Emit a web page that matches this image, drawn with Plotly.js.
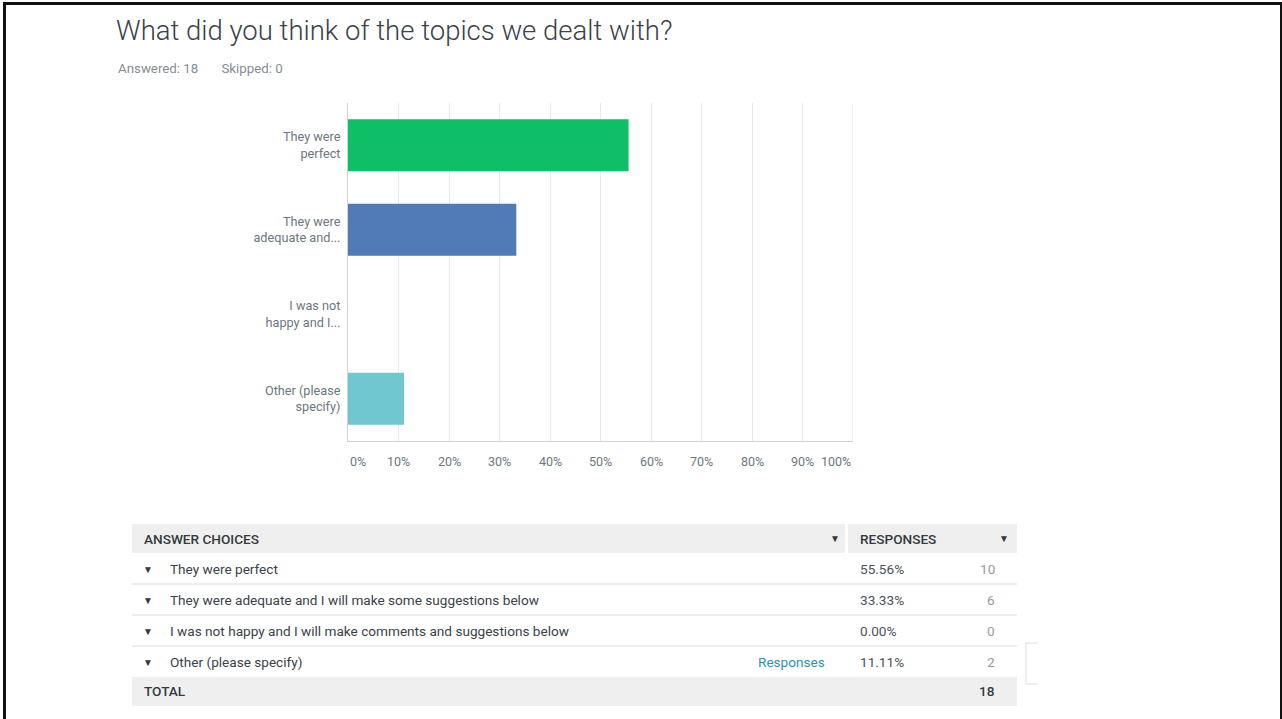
<!DOCTYPE html>
<html>
<head>
<meta charset="utf-8">
<script src="https://cdn.plot.ly/plotly-3.0.1.min.js"></script>
<style>
  html, body { margin: 0; padding: 0; background: #fff; }
  #wrap { position: relative; width: 1282px; height: 719px; overflow: hidden; }
  #chart { width: 1282px; height: 719px; }
  #frame { position: absolute; left: 3px; top: 2px; width: 1274px; height: 730px;
           border-top: 3px solid #111; border-left: 3px solid #111; border-right: 2px solid #111;
           pointer-events: none; }
</style>
</head>
<body>
<div id="wrap"><div id="chart"></div><div id="frame"></div></div>
<script>
// ---- data ----
const shortLabels = ["They were<br>perfect", "They were<br>adequate and...", "I was not<br>happy and I...", "Other (please<br>specify)"];
const fullLabels = ["They were perfect", "They were adequate and I will make some suggestions below",
                    "I was not happy and I will make comments and suggestions below", "Other (please specify)"];
const percents = [55.56, 33.33, 0.00, 11.11];
const counts = [10, 6, 0, 2];
const totalCount = 18;
const barColors = ["#0fbf68", "#507bb6", "#a3a3a3", "#71c7cf"];
const xTickVals = [0, 10, 20, 30, 40, 50, 60, 70, 80, 90, 100];
const xTickText = ["0%", "10%", "20%", "30%", "40%", "50%", "60%", "70%", "80%", "90%", "100%"];
const titleText = "What did you think of the topics we dealt with?";
const subText = "Answered: 18&nbsp;&nbsp;&nbsp;&nbsp;&nbsp;&nbsp;&nbsp;Skipped: 0";

// ---- plot geometry (pixels) ----
const W = 1282, H = 719;
const PL = 348, PR = 853, PT = 103, PB = 441;
const px = x => (x - PL) / (PR - PL);
const py = y => (PB - y) / (PB - PT);

const FONT = "Roboto, 'Open Sans', sans-serif";
const gray = "#6b7780";
const TS = 13.6;

const trace = {
  type: "bar",
  orientation: "h",
  x: percents,
  y: shortLabels,
  marker: { color: barColors },
  width: 0.615,
  hoverinfo: "skip"
};

const annotations = [];
const shapes = [];

// x tick labels via axis scale positions
xTickVals.forEach((v, i) => {
  annotations.push({
    xref: "x", yref: "paper", x: v, y: py(461),
    text: xTickText[i], showarrow: false,
    xanchor: i === 0 ? "left" : (i === xTickVals.length - 1 ? "right" : "center"),
    yanchor: "middle",
    font: { family: FONT, size: 12.5, color: gray }
  });
});

// subtitle
annotations.push({
  xref: "paper", yref: "paper", x: px(116), y: py(69), xanchor: "left", yanchor: "middle",
  text: subText, showarrow: false, font: { family: FONT, size: 13.3, color: "#858d93" }
});

// ---- table ----
const TL = 132, TR = 1017, COLDIV = 846;
const headTop = 524, rowH = 31;
const rowTops = fullLabels.map((_, i) => headTop + 29 + i * rowH);
const totalTop = headTop + 29 + fullLabels.length * rowH;

function rect(x0, y0, x1, y1, fill, line) {
  shapes.push({ type: "rect", xref: "paper", yref: "paper",
    x0: px(x0), x1: px(x1), y0: py(y0), y1: py(y1),
    fillcolor: fill, line: line || { width: 0 }, layer: "below" });
}
function hline(x0, x1, y, color) {
  shapes.push({ type: "line", xref: "paper", yref: "paper",
    x0: px(x0), x1: px(x1), y0: py(y), y1: py(y), line: { color: color, width: 1 } });
}
function txt(x, y, text, anchor, size, color, weight) {
  annotations.push({ xref: "paper", yref: "paper", x: px(x), y: py(y), text: text,
    showarrow: false, xanchor: anchor, yanchor: "middle",
    font: { family: FONT, size: size, color: color, weight: weight || 400 } });
}

// header
rect(TL, headTop, COLDIV - 1, headTop + 29, "#efefef");
rect(COLDIV + 2, headTop, TR, headTop + 29, "#efefef");
txt(142, headTop + 15, "ANSWER CHOICES", "left", TS, "#333a40", 500);
txt(835, headTop + 14, "▼", "center", 10, "#333a40");
txt(858, headTop + 15, "RESPONSES", "left", TS, "#333a40", 500);
txt(1004, headTop + 14, "▼", "center", 10, "#333a40");

// rows
fullLabels.forEach((lab, i) => {
  const top = rowTops[i];
  const cy = top + 16;
  txt(148, cy, "▼", "center", 10, "#333a40");
  txt(168, cy, lab, "left", TS, "#3a4249");
  if (i === fullLabels.length - 1) {
    txt(827, cy, "Responses", "right", TS, "#2a93b5");
  }
  txt(858, cy, percents[i].toFixed(2) + "%", "left", TS, "#4a5259");
  txt(997, cy, String(counts[i]), "right", TS, "#949ba0");
  if (i < fullLabels.length - 1) hline(TL, TR, top + rowH, "#dddddd");
});

// total
rect(TL, totalTop, TR, totalTop + 29, "#efefef");
txt(142, totalTop + 14, "TOTAL", "left", TS, "#333a40", 500);
txt(997, totalTop + 14, String(totalCount), "right", TS, "#333a40", 500);

// partial box at right edge
shapes.push({ type: "path", xref: "paper", yref: "paper",
  path: `M ${px(1037)} ${py(643)} L ${px(1026)} ${py(643)} L ${px(1026)} ${py(684)} L ${px(1037)} ${py(684)}`,
  line: { color: "#dcdcdc", width: 1 } });

// 100% gridline (right edge of grid)
shapes.push({ type: "line", xref: "x", yref: "paper", x0: 100, x1: 100, y0: 0, y1: 1,
  line: { color: "#e9e9e9", width: 1 }, layer: "below" });

const layout = {
  width: W, height: H,
  margin: { l: PL, r: W - PR, t: PT, b: H - PB, pad: 0 },
  paper_bgcolor: "#ffffff", plot_bgcolor: "#ffffff",
  showlegend: false,
  title: {
    text: titleText, xref: "container", yref: "container",
    x: 116 / W, y: 1 - 30 / H, xanchor: "left", yanchor: "middle",
    font: { family: FONT, size: 27.5, color: "#3a4148", weight: 300 }
  },
  xaxis: {
    range: [0, 100], tickvals: xTickVals, showticklabels: false,
    showgrid: true, gridcolor: "#e9e9e9", gridwidth: 1,
    zeroline: false, showline: true, linecolor: "#d2d2d2", linewidth: 1,
    mirror: false, fixedrange: true
  },
  yaxis: {
    type: "category", range: [3.5, -0.5], autorange: false,
    showgrid: false, zeroline: false, showline: true, linecolor: "#d2d2d2", linewidth: 1,
    ticks: "", ticklabelstandoff: 4,
    tickfont: { family: FONT, size: 12.7, color: gray }, fixedrange: true
  },
  annotations: annotations,
  shapes: shapes
};

Plotly.newPlot("chart", [trace], layout, { staticPlot: true, displayModeBar: false });
</script>
</body>
</html>
